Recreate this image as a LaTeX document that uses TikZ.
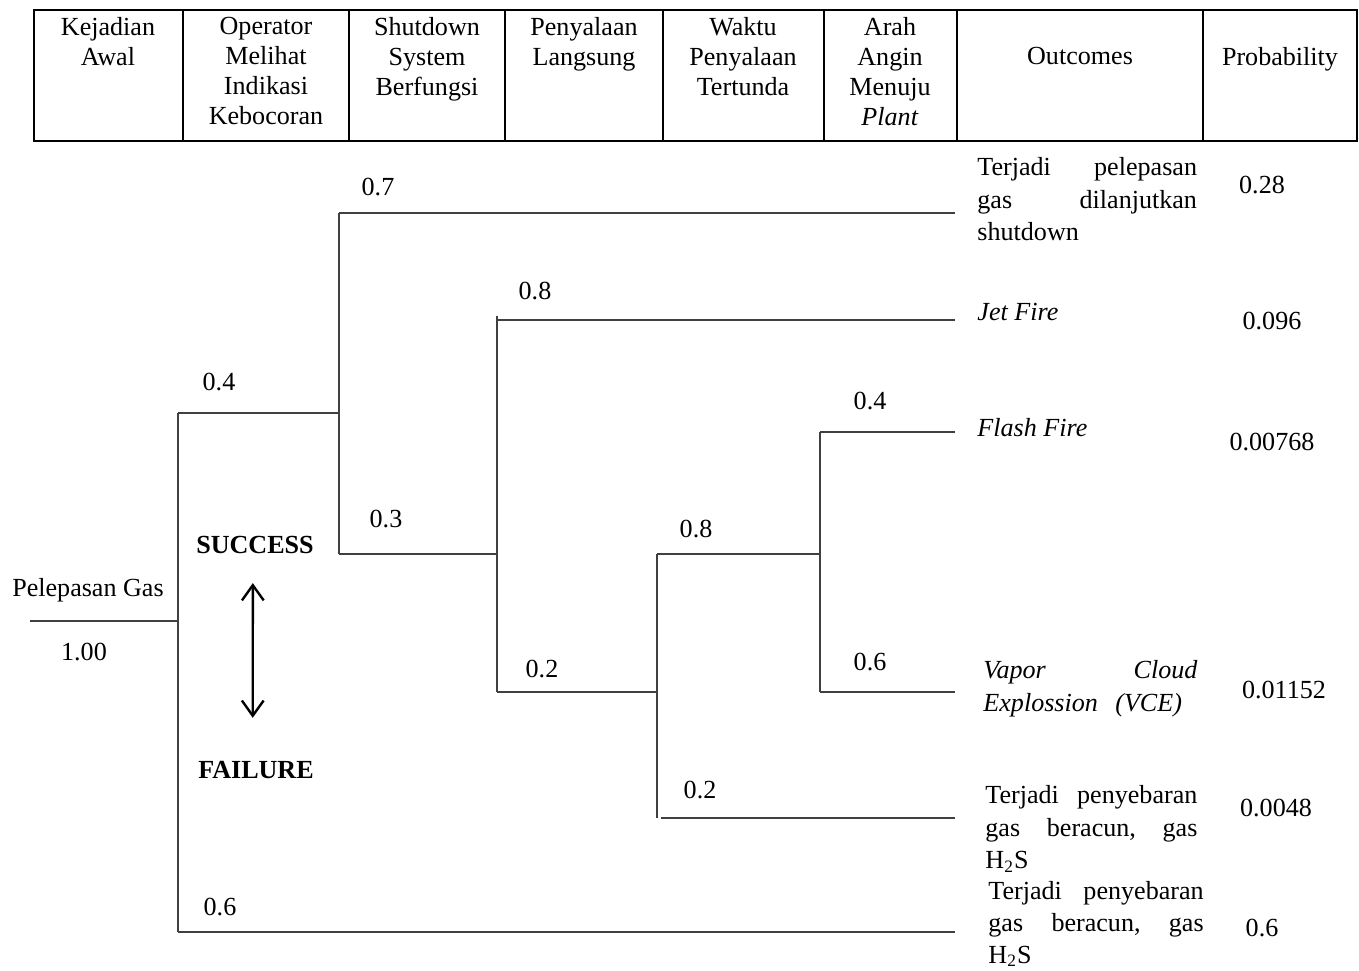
\documentclass[tikz,border=0pt]{standalone}
\usepackage{fontspec}
\setmainfont{Liberation Serif}
\usetikzlibrary{arrows.meta}
\tikzset{>={Straight Barb[length=7pt,width=10pt]}}
\tikzset{
    head/.style={anchor=north, inner sep=0pt, align=center, font=\fontsize{12}{13.8}\selectfont},
    branch/.style={draw=black!75, line width=0.7pt},
    lbl/.style={inner sep=0pt, font=\fontsize{12}{14}\selectfont},
    outcome/.style={anchor=north west, inner sep=0pt, align=left, font=\fontsize{12}{15}\selectfont},
}

\begin{document}
\begin{tikzpicture}[x=0.46pt,y=-0.46pt]
    \useasboundingbox (0,0) rectangle (1359,970);
    % header table
    \draw[line width=0.9pt] (34,10) rectangle (1357,141);
    \foreach \x in {183,349,505,663,824,957,1203}
        \draw[line width=0.9pt] (\x,10) -- (\x,141);
    \node[head] (h1) at (108,17) {Kejadian\\Awal};
    \node[head] (h2) at (266,17) {Operator\\Melihat\\Indikasi\\Kebocoran};
    \node[head] (h3) at (427,17) {Shutdown\\System\\Berfungsi};
    \node[head] (h4) at (584,17) {Penyalaan\\Langsung};
    \node[head] (h5) at (743,17) {Waktu\\Penyalaan\\Tertunda};
    \node[head] (h6) at (890,17) {Arah\\Angin\\Menuju\\\textit{Plant}};
    \node[head] (h7) at (1080,47) {Outcomes};
    \node[head] (h8) at (1280,47) {Probability};

    % branch points
    \coordinate (start) at (30,621);
    \coordinate (a) at (178,621);
    \coordinate (aU) at (178,413);
    \coordinate (aD) at (178,932);
    \coordinate (b) at (339,413);
    \coordinate (bU) at (339,213);
    \coordinate (bD) at (339,554);
    \coordinate (c) at (497,554);
    \coordinate (cU) at (497,320);
    \coordinate (cD) at (497,692);
    \coordinate (d) at (657,692);
    \coordinate (dU) at (657,554);
    \coordinate (dD) at (657,818);
    \coordinate (e) at (820,554);
    \coordinate (eU) at (820,432);
    \coordinate (eD) at (820,692);
    \coordinate (end1) at (955,213);
    \coordinate (end2) at (955,320);
    \coordinate (end3) at (955,432);
    \coordinate (end4) at (955,692);
    \coordinate (end5) at (955,818);
    \coordinate (end6) at (955,932);

    \draw[branch] (start) -- (a);
    \draw[branch] (aU) -- (aD);
    \draw[branch] (aU) -- (b);
    \draw[branch] (aD) -- (end6);
    \draw[branch] (bU) -- (bD);
    \draw[branch] (bU) -- (end1);
    \draw[branch] (bD) -- (c);
    \draw[branch] ([yshift=2pt]cU) -- (cD);
    \draw[branch] (cU) -- (end2);
    \draw[branch] (cD) -- (d);
    \draw[branch] (dU) -- (dD);
    \draw[branch] (dU) -- (e);
    \draw[branch] ([xshift=2pt]dD) -- (end5);
    \draw[branch] (eU) -- (eD);
    \draw[branch] (eU) -- (end3);
    \draw[branch] (eD) -- (end4);

    % branch labels
    \node[lbl] (init) at (88,590) {Pelepasan Gas};
    \node[lbl] (pinit) at (84,652) {1.00};
    \node[lbl] (p1) at (219,382) {0.4};
    \node[lbl] (p2) at (220,907) {0.6};
    \node[lbl] (p3) at (378,187) {0.7};
    \node[lbl] (p4) at (386,519) {0.3};
    \node[lbl] (p5) at (535,291) {0.8};
    \node[lbl] (p6) at (542,669) {0.2};
    \node[lbl] (p7) at (696,529) {0.8};
    \node[lbl] (p8) at (700,790) {0.2};
    \node[lbl] (p9) at (870,401) {0.4};
    \node[lbl] (p10) at (870,662) {0.6};

    \node[lbl] (succ) at (255,545) {\textbf{SUCCESS}};
    \node[lbl] (fail) at (256,770) {\textbf{FAILURE}};
    \draw[<->, line width=1.1pt] ([xshift=-1pt,yshift=-13.3pt]succ.south) -- ([xshift=-1.5pt,yshift=19.8pt]fail.north);

    % outcomes
    \node[outcome, text width=101pt] (o1) at (977,157) {Terjadi\hfill pelepasan\\gas\hfill dilanjutkan\\shutdown};
    \node[outcome, anchor=base west] (o2) at (977,320) {\textit{Jet Fire}};
    \node[outcome, anchor=base west] (o3) at (977,436) {\textit{Flash Fire}};
    \node[outcome, text width=98.5pt] (o4) at (983,660) {\textit{Vapor\hfill Cloud}\\\textit{Explossion\ \ (VCE)}};
    \node[outcome, text width=97.5pt] (o5) at (985,785) {Terjadi\hfill penyebaran\\gas\hfill beracun,\hfill gas\\H\textsubscript{2}S};
    \node[outcome, text width=99pt, font=\fontsize{12}{14.6}\selectfont] (o6) at (988,881) {Terjadi\hfill penyebaran\\gas\hfill beracun,\hfill gas\\H\textsubscript{2}S};

    % probabilities
    \node[lbl] (r1) at (1262,185) {0.28};
    \node[lbl] (r2) at (1272,321) {0.096};
    \node[lbl] (r3) at (1272,442) {0.00768};
    \node[lbl] (r4) at (1284,690) {0.01152};
    \node[lbl] (r5) at (1276,808) {0.0048};
    \node[lbl] (r6) at (1262,928) {0.6};
\end{tikzpicture}
\end{document}
